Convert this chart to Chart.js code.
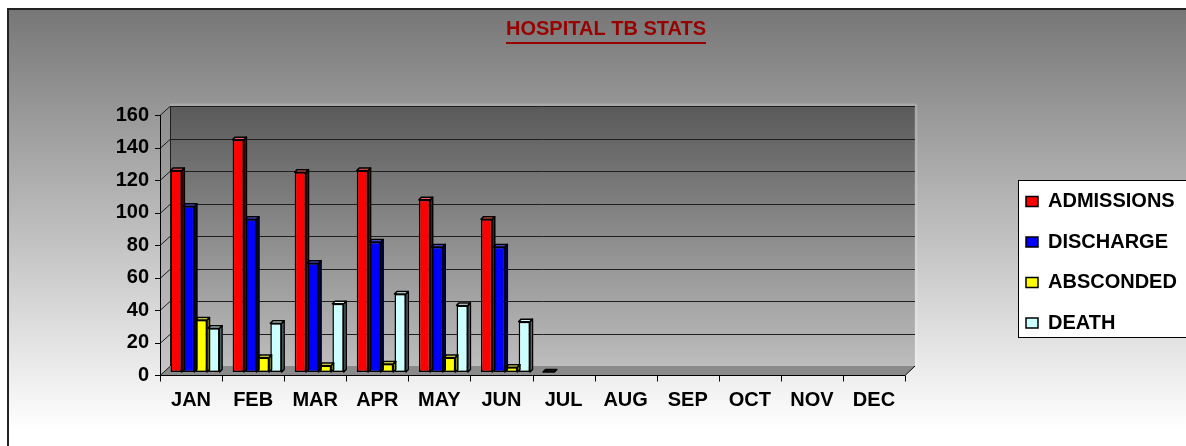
<!DOCTYPE html>
<html>
<head>
<meta charset="utf-8">
<script src="https://cdn.jsdelivr.net/npm/chart.js@4/dist/chart.umd.min.js"></script>
<style>
  html, body { margin: 0; padding: 0; background: #fff; }
</style>
</head>
<body>
<canvas id="chart" width="1186" height="446"></canvas>
<script>
// Data

const months = ["JAN", "FEB", "MAR", "APR", "MAY", "JUN", "JUL", "AUG", "SEP", "OCT", "NOV", "DEC"];
const admissions = [124, 143, 123, 124, 106, 94, 0, null, null, null, null, null];
const discharge = [102, 94, 67, 80, 77, 77, null, null, null, null, null, null];
const absconded = [32, 9, 4, 5, 9, 3, null, null, null, null, null, null];
const death = [27, 30, 42, 48, 41, 31, null, null, null, null, null, null];
const yTicks = [0, 20, 40, 60, 80, 100, 120, 140, 160];

const FONT = "'Liberation Sans', Arial, sans-serif";
const FRONT = { dx: -4, dy: 3 };   // front edge of the 3D box, relative to the bars
const BACK = { dx: 6, dy: -6 };    // back wall
const DEPTH = 2.5;                 // depth of each bar

function shade(hex, f) {
  const n = parseInt(hex.slice(1), 16);
  const c = [(n >> 16) & 255, (n >> 8) & 255, n & 255].map(v =>
    Math.round(f < 1 ? v * f : v + (255 - v) * (f - 1)));
  return "rgb(" + c.join(",") + ")";
}

// backgrounds, walls, gridlines, legend frame
const backdrop = {
  id: "backdrop",
  beforeDraw(chart) {
    const { ctx, chartArea: a, scales } = chart;
    const y = scales.y;
    ctx.save();
    let g = ctx.createLinearGradient(0, 10, 0, 430);
    g.addColorStop(0, "#777777");
    g.addColorStop(1, "#ffffff");
    ctx.fillStyle = g;
    ctx.fillRect(0, 0, chart.width, chart.height);
    ctx.fillStyle = "#fff";
    ctx.fillRect(0, 0, chart.width, 8);
    ctx.fillRect(0, 0, 7, chart.height);
    ctx.strokeStyle = "#222";
    ctx.lineWidth = 2;
    ctx.beginPath();
    ctx.moveTo(8, chart.height);
    ctx.lineTo(8, 9);
    ctx.lineTo(chart.width, 9);
    ctx.stroke();

    const fl = a.left + FRONT.dx, fr = a.right + FRONT.dx;
    const ft = a.top + FRONT.dy, fb = a.bottom + FRONT.dy;
    const bl = a.left + BACK.dx, br = a.right + BACK.dx;
    const bt = a.top + BACK.dy, bb = a.bottom + BACK.dy;

    // back wall
    g = ctx.createLinearGradient(0, bt, 0, bb);
    g.addColorStop(0, "#5a5a5a");
    g.addColorStop(1, "#bdbdbd");
    ctx.fillStyle = g;
    ctx.fillRect(bl, bt, br - bl, bb - bt);
    ctx.strokeStyle = "rgba(255,255,255,0.18)";
    ctx.lineWidth = 3;
    ctx.beginPath();
    ctx.moveTo(bl, bt - 1);
    ctx.lineTo(br + 1, bt - 1);
    ctx.lineTo(br + 1, bb);
    ctx.stroke();

    // left wall
    g = ctx.createLinearGradient(0, bt, 0, fb);
    g.addColorStop(0, "#8e8e8e");
    g.addColorStop(1, "#c6c6c6");
    ctx.fillStyle = g;
    ctx.beginPath();
    ctx.moveTo(fl, ft);
    ctx.lineTo(bl, bt);
    ctx.lineTo(bl, bb);
    ctx.lineTo(fl, fb);
    ctx.closePath();
    ctx.fill();

    // floor
    ctx.fillStyle = "#8a8a8a";
    ctx.beginPath();
    ctx.moveTo(fl, fb);
    ctx.lineTo(bl, bb);
    ctx.lineTo(br, bb);
    ctx.lineTo(fr, fb);
    ctx.closePath();
    ctx.fill();

    // gridlines on back and left wall
    ctx.strokeStyle = "#1e1e1e";
    ctx.lineWidth = 1;
    yTicks.forEach(v => {
      const py = Math.round(y.getPixelForValue(v)) + 0.5;
      ctx.beginPath();
      ctx.moveTo(fl, py + FRONT.dy);
      ctx.lineTo(bl, py + BACK.dy);
      if (v > 0) ctx.lineTo(br, py + BACK.dy);
      ctx.stroke();
    });
    ctx.beginPath();
    ctx.moveTo(bl + 0.5, bt);
    ctx.lineTo(bl + 0.5, bb);
    ctx.stroke();

    // legend frame
    ctx.fillStyle = "#fff";
    ctx.fillRect(1018, 180, chart.width - 1018, 157);
    ctx.strokeStyle = "#000";
    ctx.strokeRect(1018.5, 180.5, chart.width, 157);
    ctx.restore();
  }
};

// 3D sides and caps of the bars, front axes
const bars3d = {
  id: "bars3d",
  afterDatasetsDraw(chart) {
    const { ctx } = chart;
    ctx.save();
    ctx.lineWidth = 1.5;
    ctx.lineJoin = "round";
    ctx.strokeStyle = "#000";
    chart.data.datasets.forEach((ds, i) => {
      chart.getDatasetMeta(i).data.forEach((bar, j) => {
        if (ds.data[j] === null) return;
        const { x, y, base, width } = bar.getProps(["x", "y", "base", "width"], true);
        const l = x - width / 2, r = x + width / 2, d = DEPTH;
        if (base - y > 0.5) {
          ctx.fillStyle = shade(ds.backgroundColor, 0.55);
          ctx.beginPath();
          ctx.moveTo(r, y);
          ctx.lineTo(r + d, y - d);
          ctx.lineTo(r + d, base - d);
          ctx.lineTo(r, base);
          ctx.closePath();
          ctx.fill();
          ctx.stroke();
        }
        ctx.fillStyle = base - y > 0.5 ? shade(ds.backgroundColor, 1.35) : "#111";
        ctx.beginPath();
        ctx.moveTo(l, y);
        ctx.lineTo(l + d, y - d);
        ctx.lineTo(r + d, y - d);
        ctx.lineTo(r, y);
        ctx.closePath();
        ctx.fill();
        ctx.stroke();
      });
    });
    ctx.restore();
  },
  afterDraw(chart) {
    const { ctx, chartArea: a, scales } = chart;
    const fl = a.left + FRONT.dx, fr = a.right + FRONT.dx;
    const fb = Math.round(a.bottom + FRONT.dy) + 0.5;
    ctx.save();
    ctx.strokeStyle = "#000";
    ctx.lineWidth = 1;
    ctx.beginPath();
    ctx.moveTo(fl + 0.5, a.top + FRONT.dy);
    ctx.lineTo(fl + 0.5, fb);
    ctx.lineTo(fr, fb);
    ctx.lineTo(a.right + BACK.dx, a.bottom + BACK.dy);
    yTicks.forEach(v => {
      const py = Math.round(scales.y.getPixelForValue(v) + FRONT.dy) + 0.5;
      ctx.moveTo(fl - 5, py);
      ctx.lineTo(fl + 0.5, py);
    });
    const step = (a.right - a.left) / months.length;
    for (let i = 0; i <= months.length; i++) {
      const px = Math.round(fl + i * step) + 0.5;
      ctx.moveTo(px, fb);
      ctx.lineTo(px, fb + 6);
    }
    ctx.stroke();

    // title underline
    const t = chart.titleBlock;
    ctx.font = "bold 20px " + FONT;
    const tw = ctx.measureText(chart.options.plugins.title.text).width;
    const cx = (t.left + t.right) / 2;
    ctx.fillStyle = "#990000";
    ctx.fillRect(cx - tw / 2, 42, tw, 2);
    ctx.restore();
  }
};

// fixed legend placement
const placing = {
  id: "placing",
  beforeInit(chart) {
    const fit = chart.legend.fit;
    chart.legend.fit = function () {
      fit.call(this);
      this.width = 1186 - 909;
    };
  },
  afterLayout(chart) {
    const lg = chart.legend;
    lg.left = 1026 - 20.5;
    lg.right = 1186;
    lg.top = 171;
    lg.bottom = 446;
    const t = chart.titleBlock;
    t.left += 13;
    t.right += 13;
  }
};

const ctx = document.getElementById("chart").getContext("2d");
const myChart = new Chart(ctx, {
  type: "bar",
  data: {
    labels: months,
    datasets: [
      { label: "ADMISSIONS", data: admissions, backgroundColor: "#FF0000" },
      { label: "DISCHARGE", data: discharge, backgroundColor: "#0000FF" },
      { label: "ABSCONDED", data: absconded, backgroundColor: "#FFFF00" },
      { label: "DEATH", data: death, backgroundColor: "#CCFFFF" },
    ].map(d => Object.assign(d, { borderColor: "#000", borderWidth: 1.5, borderSkipped: false })),
  },
  options: {
    responsive: false,
    animation: false,
    categoryPercentage: 0.81,
    barPercentage: 0.9,
    layout: { padding: 0 },
    plugins: {
      title: {
        display: true,
        text: "HOSPITAL TB STATS",
        color: "#990000",
        font: { family: FONT, size: 20, weight: "bold", lineHeight: 1.2 },
        padding: { top: 17, bottom: 71 },
      },
      legend: {
        position: "right",
        align: "start",
        labels: {
          color: "#000",
          font: { family: FONT, size: 20, weight: "bold" },
          boxWidth: 12,
          boxHeight: 10,
          padding: 20.5,
        },
      },
      tooltip: { enabled: false },
    },
    scales: {
      x: {
        grid: { display: false, drawTicks: false, tickLength: 0 },
        border: { display: false },
        ticks: {
          color: "#000",
          font: { family: FONT, size: 20, weight: "bold", lineHeight: 1.2 },
          padding: 16.6,
          labelOffset: -4,
          maxRotation: 0,
          autoSkip: false,
        },
        afterFit(scale) { scale.height = 74; },
      },
      y: {
        min: 0,
        max: 160,
        grid: { display: false, drawTicks: false, tickLength: 0 },
        border: { display: false },
        ticks: {
          stepSize: 20,
          color: "#000",
          font: { family: FONT, size: 20, weight: "bold" },
          padding: 15,
          labelOffset: 3,
        },
        afterFit(scale) { scale.width = 164; },
      },
    },
  },
  plugins: [placing, backdrop, bars3d],
});
</script>
</body>
</html>
